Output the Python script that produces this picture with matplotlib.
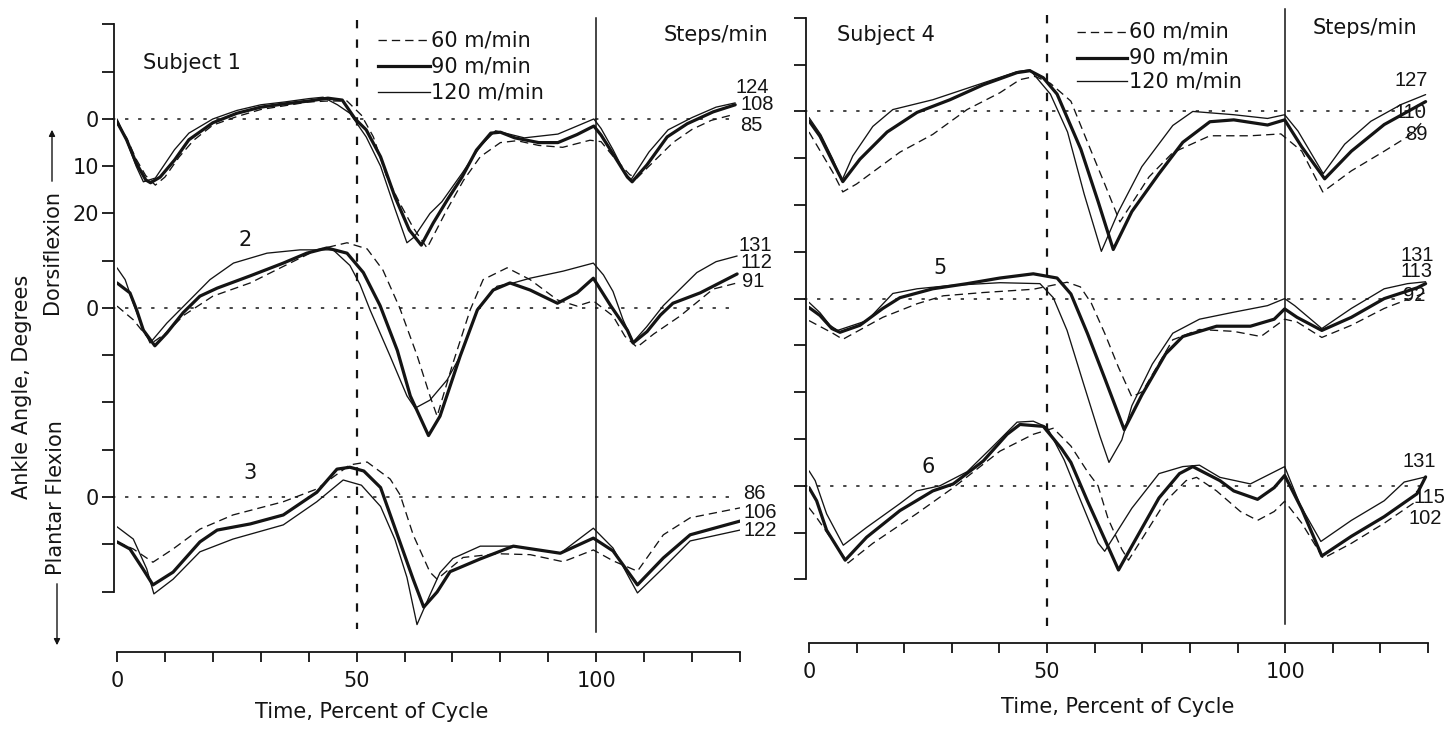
import matplotlib
matplotlib.use("Agg")
import matplotlib.pyplot as plt
from matplotlib.patches import FancyArrowPatch
import numpy as np

plt.rcParams['font.family'] = ['DejaVu Sans']
plt.rcParams['lines.scale_dashes'] = False

INK = '#141414'
W, H = 1447, 733

# ---------------- data (ankle angle, deg; dorsiflexion positive) ----------------
SPEEDS = ['60 m/min', '90 m/min', '120 m/min']
X_TICKS = list(range(0, 131, 10))
X_TICK_LABELS = {0: '0', 50: '50', 100: '100'}
Y_TICKS = list(range(-100, 21, 10))
Y_TICK_LABELS = {0: '0', -10: '10', -20: '20', -40: '0', -80: '0'}
SUBJECT_OFFSETS = [0, -40, -80]

# Subject 1
T1_60 = [0, 2, 4, 6, 8, 10, 13, 16, 20, 25, 30, 40, 44, 48, 51, 53.5, 56.3, 59, 61.8, 64.7, 68.8, 72.3, 75.8, 80, 83.5, 88, 93, 98.7, 101, 104, 107, 108.5, 112, 116, 120, 124, 128.5]
V1_60 = [-1, -4, -8.5, -12, -14, -12.3, -8, -4.5, -1.3, 0.5, 2, 3.6, 3.8, 3.8, 0.8, -3.8, -12.3, -17.8, -23, -27.3, -19.3, -13, -8, -5, -4.6, -5.6, -6, -4.5, -4.8, -8.5, -11.8, -12.5, -9, -5, -2.2, -0.3, 0.9]
T1_90 = [0, 2, 4, 6, 7, 9, 12, 15, 20, 25, 30, 35, 40, 44, 47, 49.7, 52, 55, 58, 61, 63.5, 66, 69, 72, 75, 78, 80, 83, 88, 92, 96, 99.5, 101, 103.5, 106.5, 107.5, 110.6, 114.8, 119, 124.4, 129]
V1_90 = [-0.6, -4.4, -9.3, -12.9, -13.5, -12.3, -8.7, -4.4, -0.8, 1.2, 2.5, 3.2, 3.8, 4.4, 4.0, 0, -2.3, -8, -16.5, -23.5, -26.7, -22, -17, -12.3, -6.6, -3, -2.8, -4, -5, -5, -3.3, -1.5, -3.4, -7.4, -12.3, -13.3, -9.7, -3.8, -1, 1.5, 3]
T1_120 = [0, 2, 4, 5.5, 8, 12, 15, 20, 25, 30, 35, 40, 43, 46, 48.6, 52, 55, 58, 60.5, 62, 65.3, 67.8, 72, 76, 79, 85, 92, 99.5, 101, 103.5, 106, 107.3, 111, 115, 120, 125, 129]
V1_120 = [0, -4.6, -10, -13.3, -12.5, -6.5, -3, 0, 1.8, 3, 3.6, 4.3, 4.6, 3, 1.2, -3.8, -10, -19, -26.2, -25, -20, -17.5, -11.5, -5.5, -2.5, -4, -3.2, 0, -2, -6.5, -11.5, -12.8, -7, -2.3, 0.3, 2.5, 3.4]

# Subject 2
T2_60 = [0, 3.4, 7.3, 10, 14, 20, 27.8, 36.1, 41.7, 48, 52.2, 55.5, 59, 62.6, 65.3, 66.8, 70, 73.7, 76.4, 81.4, 86.2, 91.9, 96, 99.4, 103.5, 106, 108.5, 112, 117.5, 124.4, 129.4]
V2_60 = [0.4, -2.5, -7.4, -5.5, -1.5, 2.5, 5.3, 9.5, 12.3, 13.8, 12.5, 8, 0, -10, -18.6, -22.9, -12, -0.4, 6, 8.5, 6, 1.7, 0.4, 1.5, -1.7, -6, -8.3, -5.5, -1.7, 4, 5.3]
T2_90 = [0, 2.7, 4.1, 5.5, 7.9, 10.4, 13.8, 17.3, 20.9, 27.8, 34.7, 39.6, 43.8, 48, 51.4, 54.9, 58.5, 61.2, 65, 67.4, 71.6, 75.2, 78.5, 82, 86.2, 91.9, 96, 99.4, 103, 106.5, 107.7, 110.6, 113.4, 116, 121.7, 129.4]
V2_90 = [5.3, 3.2, -0.4, -4.7, -8, -5.3, -1, 2.5, 4.2, 6.8, 9.5, 11.6, 12.7, 11.6, 7.5, 0.5, -9, -18.6, -27, -22.9, -10.2, -0.4, 3.8, 5.3, 3.8, 1, 3.2, 6.3, 0.5, -4.7, -7.4, -5, -1.5, 1, 3.2, 7.2]
T2_120 = [0, 1.7, 3.4, 5.2, 6.9, 10.4, 15.2, 19.4, 24.3, 31.3, 38.2, 45.1, 48.6, 50.7, 52.8, 57, 60.5, 62.2, 65.3, 68.9, 71.6, 75.2, 79.3, 82.7, 86.2, 93.1, 99.4, 101.5, 103.5, 105.6, 107.7, 110.5, 114, 117.5, 121, 125, 129.4]
V2_120 = [8.5, 6, 1, -3.8, -7.4, -3.2, 1.7, 6, 9.5, 11.6, 12.3, 12.3, 9, 5, -0.4, -10.2, -18.6, -21.2, -19.5, -15.2, -10.2, -0.4, 4.6, 5.3, 6.3, 7.8, 9.5, 7, 3.5, -2.5, -7.2, -4, 0.5, 4, 7.5, 9.8, 11]

# Subject 3
T3_60 = [0, 3.4, 7.5, 11.7, 17.3, 24.2, 34.7, 41.7, 48.6, 52.2, 57, 59.1, 61.8, 65.3, 66.8, 72.2, 79.3, 86.2, 93.1, 99.4, 103.5, 108.6, 114, 119.6, 130]
V3_60 = [-9.5, -11, -13.8, -11, -6.8, -3.8, -1, 1.7, 6.8, 7.4, 3.8, 0.4, -8, -15.9, -17.4, -12.8, -12, -12.2, -13.7, -11.2, -13.5, -15.7, -8, -4.4, -2.3]
T3_90 = [0, 2.7, 5.4, 7.5, 11.7, 17.3, 20.9, 27.8, 34.7, 41.7, 45.9, 48.6, 51.5, 55, 58.5, 61.8, 64, 66.8, 69.5, 75.8, 82.7, 92.5, 99.4, 103.5, 108.6, 114, 119.6, 130]
V3_90 = [-9.5, -11, -15.2, -18.6, -15.9, -9.5, -7, -5.7, -3.8, 1, 5.9, 6.3, 5.5, 2, -8, -17.4, -23.3, -20.1, -15.8, -13.1, -10.4, -11.9, -8.7, -11.4, -18.6, -12.9, -8, -5.1]
T3_120 = [0, 3.4, 6.2, 7.7, 11.7, 17.3, 24.2, 34.7, 41.7, 47.2, 51, 55, 58, 60.5, 62.6, 65.3, 67.4, 70.1, 75.8, 82.7, 92.5, 99.4, 103.5, 108.6, 114, 119.6, 130]
V3_120 = [-6.3, -8.9, -15.2, -20.5, -17.4, -11.6, -8.9, -5.9, -1, 3.6, 2.5, -2, -9, -17, -27, -20.7, -16, -13, -10.4, -10.4, -11.9, -6.6, -10.8, -20.3, -15, -9.3, -7]

# Subject 4
T4_60 = [0, 5, 7.1, 10, 19.1, 26, 33.2, 40.1, 44.3, 47.5, 50.7, 55, 58.5, 62.1, 65.3, 71.4, 76.4, 84.2, 92.7, 99.1, 103.5, 107.9, 113.9, 120.8, 126.5, 129]
V4_60 = [-4.4, -13, -17.2, -15.5, -8.7, -4.9, 0.4, 4, 6.8, 7.5, 6, 2.2, -6.6, -15.5, -23.6, -14, -8.8, -5.2, -5.2, -4.8, -8.5, -17.2, -12.7, -8.5, -4.9, -2]
T4_90 = [0, 2.3, 5, 7.1, 10.7, 16.4, 22.7, 29.6, 36.6, 43.7, 46.4, 49.2, 52.1, 57.1, 60.7, 63.9, 67.8, 73.5, 78.5, 84.2, 89.2, 96.3, 99.9, 103.5, 108.3, 113.9, 120.8, 129.5]
V4_90 = [-2, -5.3, -10.8, -15, -10.2, -4.4, -0.2, 2.5, 5.7, 8.3, 8.7, 7.2, 3.7, -8.1, -19.2, -29.5, -21.4, -13.3, -6.6, -2.2, -1.8, -2.9, -1.8, -7.6, -14.4, -8.5, -2.8, 2.1]
T4_120 = [0, 2.5, 5, 6.9, 9.2, 13.4, 17.6, 26, 36.6, 43.7, 46.4, 50.7, 54.3, 57.8, 61.4, 65, 69.9, 76.4, 80.6, 89.2, 96.3, 99.9, 102.7, 108, 112.5, 118, 124.4, 129.5]
V4_120 = [-1.3, -5, -10.2, -14.8, -9.5, -3.2, 0.4, 2.5, 6.1, 8.5, 8.9, 3.7, -4.4, -17.7, -29.9, -21.4, -11.8, -3, 0, -0.7, -1.5, -0.7, -4.2, -13.3, -7, -2.1, 1.5, 3.6]

# Subject 5
T5_60 = [0, 5, 7.1, 15.5, 22.7, 28.2, 36.6, 47.1, 54.2, 57, 59.3, 62.1, 65, 67.8, 70, 76.4, 82, 89.2, 94.9, 99.9, 102.5, 107.7, 113.9, 120.8, 129.5]
V5_60 = [-4.7, -7.4, -8.7, -4, -1.1, 0.6, 1.3, 2, 3.5, 2.5, -1, -7.4, -14.7, -21, -19.9, -8.8, -6.6, -7, -8.1, -4.4, -5, -8.3, -5.7, -2.1, 1.3]
T5_90 = [0, 2.3, 4.8, 6.5, 10.7, 15.5, 19.1, 26, 33.2, 40.1, 47.1, 52.1, 55, 58.5, 62.1, 66.2, 69.9, 74.9, 78.5, 85.6, 92.7, 97.7, 99.9, 102.5, 107.7, 113.9, 120.8, 127.7, 129.5]
V5_90 = [-1.9, -3.6, -6.4, -7.2, -5.7, -2.1, 0.2, 2.1, 3.2, 4.4, 5.3, 4.4, 1, -7.5, -17, -28, -20.6, -11.8, -8.1, -5.9, -5.9, -4.4, -2.2, -4, -6.8, -4, 0, 2.3, 3.2]
T5_120 = [0, 2.3, 4.4, 6, 12.2, 17.6, 22.7, 29.6, 40.1, 48.5, 51.3, 54.2, 57.6, 61.1, 63, 65.7, 67.8, 72.1, 76.4, 82, 89.2, 96.3, 99.9, 102, 107.7, 113.9, 120.8, 125.7, 129.5]
V5_120 = [-0.8, -3, -5.7, -6.8, -4.7, 1.1, 2.1, 2.8, 3.4, 3.2, 0.2, -6.8, -18, -29.4, -35, -30.2, -22.9, -14, -7.4, -4.4, -2.9, -1.5, 0, -1.5, -6.4, -2.1, 2.1, 3.2, 3.6]

# Subject 6
T6_60 = [0, 1.6, 8.2, 13.4, 22.7, 30.3, 40.1, 47.1, 51.3, 55, 58.5, 60.7, 62.8, 65.7, 67.1, 69.9, 74.9, 79.2, 81.4, 85.6, 90.6, 94.2, 97.7, 99.9, 103.5, 108, 113.9, 120.8, 127.7]
V6_60 = [-4.7, -6.8, -16.5, -12.3, -5.9, -0.4, 7.4, 11, 12.3, 8.5, 3, 0, -7, -13.6, -15.9, -11.4, -3.3, 1.1, 1.8, -1.1, -5.5, -7.4, -5.5, -3.3, -8, -15.5, -12.3, -8, -3.2]
T6_90 = [0, 1.6, 3.7, 7.6, 12.1, 19.1, 26, 30.3, 36.6, 41.6, 44.3, 49.2, 53, 55, 58.5, 62.1, 65, 67.8, 73.5, 77.8, 80.6, 86.3, 89.2, 94.2, 97.7, 99.9, 103.5, 107.7, 113.9, 120.8, 127.7, 129.5]
V6_90 = [-0.4, -3.2, -9.5, -15.9, -11, -5.3, -1.1, 0.4, 5.3, 11, 13.1, 12.7, 8, 5, -3.3, -11.4, -18, -12.9, -2.6, 2.6, 4.1, 1.1, -1.1, -2.9, -0.4, 2.2, -5, -15, -10.8, -6.6, -1.7, 1.9]
T6_120 = [0, 1.3, 3.7, 7.2, 12.1, 19.1, 22.6, 27.5, 33.2, 38.7, 43.7, 47.1, 50, 53.6, 57.1, 60.7, 62.1, 67.8, 73.5, 78.5, 82, 86.3, 92.7, 99.9, 103.2, 107.5, 113.9, 120.8, 125, 129.5]
V6_120 = [3.2, 1.1, -6, -12.7, -8.9, -3.8, -1.1, 0, 3, 8.5, 13.6, 13.8, 12.5, 5.5, -3.3, -12.2, -14, -4.8, 2.6, 4.1, 4.4, 1.8, 0.4, 4.1, -4.2, -11.9, -7.4, -3.2, 0.8, 1.9]

STEPS_LEFT = [['124', '108', '85'], ['131', '112', '91'], ['86', '106', '122']]
STEPS_RIGHT = [['127', '110', '89'], ['131', '113', '92'], ['131', '115', '102']]

# ---------------- styles ----------------
STY = {
    '60': dict(color=INK, lw=0.95, ls=(0, (6.0, 3.6))),
    '90': dict(color=INK, lw=2.3, ls='-'),
    '120': dict(color=INK, lw=0.95, ls='-'),
}


def check(t, v):
    if len(t) != len(v):
        raise ValueError('length mismatch %d %d' % (len(t), len(v)))
    return np.asarray(t, float), np.asarray(v, float)


def setup_axes(ax, ylim_bottom, labels=True):
    ax.set_xlim(0, 130)
    ax.set_ylim(ylim_bottom, 22)
    for s in ('top', 'right'):
        ax.spines[s].set_visible(False)
    ax.spines['bottom'].set_bounds(0, 130)
    ax.spines['left'].set_bounds(-100, 20)
    ax.spines['left'].set_position(('outward', 2.5))
    for s in ('bottom', 'left'):
        ax.spines[s].set_linewidth(1.3)
        ax.spines[s].set_color(INK)
    ax.set_xticks(X_TICKS)
    ax.set_xticklabels([X_TICK_LABELS.get(v, '') for v in X_TICKS])
    ax.set_yticks(Y_TICKS)
    if labels:
        ax.set_yticklabels([Y_TICK_LABELS.get(v, '') for v in Y_TICKS])
    else:
        ax.set_yticklabels([])
    ax.tick_params(axis='x', direction='out', length=7.5, width=1.3, pad=6,
                   labelsize=15, colors=INK)
    ax.tick_params(axis='y', direction='out', length=8.5, width=1.3, pad=2,
                   labelsize=15, colors=INK)
    ax.patch.set_alpha(0)


def draw_curves(ax, curves):
    for off, trio in zip(SUBJECT_OFFSETS, curves):
        for key, (t, v) in zip(('60', '90', '120'), trio):
            tt, vv = check(t, v)
            ax.plot(tt, vv + off, solid_joinstyle='round', solid_capstyle='round',
                    dash_capstyle='butt', zorder=3, **STY[key])


def zero_lines(ax, t_end):
    for off in SUBJECT_OFFSETS:
        ax.plot([-1, t_end], [off, off], color=INK, lw=1.1,
                ls=(0, (2.4, 7.0)), zorder=2, clip_on=False)


fig = plt.figure(figsize=(W / 100, H / 100), dpi=100)
fig.patch.set_facecolor('white')

# Left panel (0 deg of subject 1 at y=119 px, 4.725 px per degree)
axL = fig.add_axes([117 / W, 1 - 652 / H, 623 / W, (652 - 15) / H])
setup_axes(axL, -112.8, labels=True)
zero_lines(axL, 129.5)
axL.plot([50, 50], [21, -108], color=INK, lw=1.6, ls=(0, (6, 8)), zorder=2, clip_on=False)
axL.plot([100, 100], [21.4, -108.6], color=INK, lw=1.1, zorder=2, clip_on=False)
draw_curves(axL, [
    [(T1_60, V1_60), (T1_90, V1_90), (T1_120, V1_120)],
    [(T2_60, V2_60), (T2_90, V2_90), (T2_120, V2_120)],
    [(T3_60, V3_60), (T3_90, V3_90), (T3_120, V3_120)],
])

# Right panel (0 deg of subject 4 at y=111.5 px, 4.68 px per degree)
axR = fig.add_axes([809 / W, 1 - 643 / H, 619 / W, (643 - 8.5) / H])
setup_axes(axR, -113.6, labels=False)
zero_lines(axR, 130)
axR.plot([50, 50], [20.6, -110], color=INK, lw=1.6, ls=(0, (6, 8)), zorder=2, clip_on=False)
axR.plot([100, 100], [21.8, -109.5], color=INK, lw=1.1, zorder=2, clip_on=False)
draw_curves(axR, [
    [(T4_60, V4_60), (T4_90, V4_90), (T4_120, V4_120)],
    [(T5_60, V5_60), (T5_90, V5_90), (T5_120, V5_120)],
    [(T6_60, V6_60), (T6_90, V6_90), (T6_120, V6_120)],
])


def legend(ax, t0, t1, ys, ttext):
    for key, y, lab in zip(('60', '90', '120'), ys, SPEEDS):
        ax.plot([t0, t1], [y, y], clip_on=False, **STY[key])
        ax.text(ttext, y, lab, fontsize=15, va='center', ha='left', color=INK)


legend(axL, 54.5, 65.3, [16.7, 11.2, 5.7], 65.6)
legend(axR, 56.3, 66.8, [17.0, 11.5, 6.4], 67.2)

TXT = dict(fontsize=15, color=INK)
NUM = dict(fontsize=14.5, color=INK, family=['Liberation Sans', 'DejaVu Sans'])

axL.text(5.4, 11.9, 'Subject 1', va='center', ha='left', **TXT)
axR.text(5.9, 16.4, 'Subject 4', va='center', ha='left', **TXT)
axL.text(114.0, 17.8, 'Steps/min', va='center', ha='left', clip_on=False, **TXT)
axR.text(105.7, 17.9, 'Steps/min', va='center', ha='left', clip_on=False, **TXT)
axL.text(26.7, -25.6, '2', va='center', ha='center', **TXT)
axL.text(27.8, -74.9, '3', va='center', ha='center', **TXT)
axR.text(27.5, -33.4, '5', va='center', ha='center', **TXT)
axR.text(25.0, -76.0, '6', va='center', ha='center', **TXT)

# step-rate labels
left_pos = [[(129.0, 6.6), (130.0, 3.0), (130.0, -1.3)],
            [(129.6, -26.7), (130.0, -30.3), (130.5, -34.5)],
            [(130.7, -79.2), (130.7, -83.2), (130.7, -87.0)]]
right_pos = [[(123.0, 6.6), (123.0, -0.3), (125.2, -5.0)],
             [(124.2, -30.7), (124.2, -34.3), (124.8, -39.4)],
             [(124.6, -74.9), (126.9, -82.6), (125.8, -86.9)]]
for labs, poss in zip(STEPS_LEFT, left_pos):
    for lab, (x, y) in zip(labs, poss):
        axL.text(x, y, lab, va='center', ha='left', clip_on=False, **NUM)
for labs, poss in zip(STEPS_RIGHT, right_pos):
    for lab, (x, y) in zip(labs, poss):
        axR.text(x, y, lab, va='center', ha='left', clip_on=False, **NUM)

# axis titles
fig.text(372 / W, 1 - 712 / H, 'Time, Percent of Cycle', ha='center', va='center', **TXT)
fig.text(1118 / W, 1 - 707 / H, 'Time, Percent of Cycle', ha='center', va='center', **TXT)
fig.text(22 / W, 1 - 387 / H, 'Ankle Angle, Degrees', rotation=90, ha='center', va='center', **TXT)
fig.text(52 / W, 1 - 252 / H, 'Dorsiflexion', rotation=90, ha='center', va='center', **TXT)
fig.text(56 / W, 1 - 498 / H, 'Plantar Flexion', rotation=90, ha='center', va='center', **TXT)

fig.add_artist(FancyArrowPatch((52 / W, 1 - 184 / H), (52 / W, 1 - 127 / H),
                               transform=fig.transFigure, arrowstyle='-|>',
                               mutation_scale=9, lw=1.0, color=INK))
fig.add_artist(FancyArrowPatch((57 / W, 1 - 581 / H), (57 / W, 1 - 648 / H),
                               transform=fig.transFigure, arrowstyle='-|>',
                               mutation_scale=9, lw=1.0, color=INK))

fig.savefig('out.png', dpi=100, facecolor='white')
